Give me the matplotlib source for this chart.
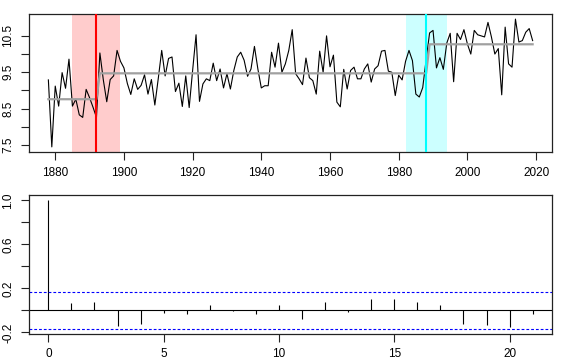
import numpy as np
import matplotlib
matplotlib.use("Agg")
import matplotlib.pyplot as plt

plt.rcParams['font.family'] = ['Liberation Sans', 'DejaVu Sans']
plt.rcParams['font.size'] = 8.5

# annual series, 1878-2019
years = np.arange(1878, 2020)
temp = [
    9.29, 7.45, 9.12, 8.57, 9.49, 9.06, 9.86, 8.57, 8.76, 8.33,
    8.26, 9.03, 8.80, 8.54, 8.26,
    10.03, 9.29, 8.69, 9.30, 9.40, 10.10, 9.80,
    9.62, 9.19, 8.89, 9.32, 9.03, 9.14, 9.43, 8.90, 9.30, 8.60,
    9.33, 10.10, 9.40, 9.88, 9.92, 8.97, 9.20, 8.56, 9.40, 8.53,
    9.55, 10.53, 8.70, 9.18, 9.32, 9.27, 9.75, 9.27, 9.59, 9.07,
    9.46, 9.04, 9.55, 9.92, 10.05, 9.83, 9.39, 9.59, 10.21, 9.59,
    9.07, 9.13, 9.13, 10.05, 9.64, 10.30, 9.50, 9.73, 10.10, 10.67,
    9.46, 9.32, 9.16, 9.89, 9.35, 9.27, 8.90, 10.08, 9.50, 10.50,
    9.65, 9.97, 8.68, 8.55, 9.58, 9.04, 9.55, 9.64, 9.32, 9.32,
    9.59, 9.73, 9.23, 9.59, 9.68, 10.08, 10.10, 9.53, 9.50, 8.86,
    9.42, 9.29, 9.80, 10.10, 9.82, 8.90, 8.82, 9.08, 9.85,
    10.58, 10.65, 9.62, 9.90, 9.58, 10.30, 10.57, 9.24, 10.57, 10.40,
    10.67, 10.28, 10.00, 10.65, 10.53, 10.50, 10.47, 10.87, 10.47, 10.00,
    10.15, 8.88, 10.74, 9.73, 9.64, 10.96, 10.33, 10.37, 10.60, 10.70,
    10.37,
]

# changepoints with their confidence intervals
cpt_years = [1892, 1988]
cpt_lo = [1885, 1982]
cpt_hi = [1899, 1994]
cpt_colors = ['red', 'cyan']
band_colors = ['#ffcccc', '#ccffff']

# autocorrelation of the series
lags = np.arange(0, 22)
acf = [1.0, 0.070, 0.079, -0.145, -0.124, -0.020, -0.030, 0.052, -0.006, -0.036,
       0.052, -0.073, 0.076, -0.018, 0.103, 0.100, 0.079, 0.052, -0.121, -0.130,
       -0.148, -0.033]

temp = np.array(temp)
n = len(temp)
conf = 1.96 / np.sqrt(n)

# segment means between changepoints
fitted = np.zeros(n)
edges = [years[0]] + [c + 1 for c in cpt_years] + [years[-1] + 1]
for a, b in zip(edges[:-1], edges[1:]):
    m = (years >= a) & (years < b)
    fitted[m] = temp[m].mean()


def r_lim(lo, hi):
    d = (hi - lo) * 0.04
    return lo - d, hi + d


def r_style(ax):
    for s in ax.spines.values():
        s.set_linewidth(0.9)
        s.set_color('#222222')
    ax.tick_params(direction='out', length=5.5, width=0.8, color='#222222',
                   top=False, right=False, pad=5)
    for lab in ax.get_yticklabels():
        lab.set_rotation(90)
        lab.set_va('center')


fig = plt.figure(figsize=(5.81, 3.63), dpi=100)
W, H = 581, 363
ax1 = fig.add_axes([29 / W, 1 - 152 / H, 523 / W, 138 / H])
ax2 = fig.add_axes([29 / W, 1 - 333.7 / H, 523 / W, 138.4 / H])

# top: series, changepoint bands, fitted means
for c, lo, hi, col, bcol in zip(cpt_years, cpt_lo, cpt_hi, cpt_colors, band_colors):
    ax1.axvspan(lo, hi, color=bcol, lw=0, zorder=1)
    ax1.axvline(c, color=col, lw=1.5, zorder=4)
ax1.plot(years, temp, color='black', lw=0.8, zorder=2)
ax1.plot(years, fitted, color='#a0a0a0', lw=1.6, zorder=3)
ax1.set_xlim(*r_lim(years[0], years[-1]))
ax1.set_ylim(*r_lim(temp.min(), temp.max()))
ax1.set_xticks(np.arange(1880, 2021, 20))
ax1.set_yticks(np.arange(7.5, 10.51, 0.5))
ax1.set_yticklabels(['7.5', '', '8.5', '', '9.5', '', '10.5'])
r_style(ax1)

# bottom: ACF
ax2.vlines(lags, 0, acf, color='black', lw=0.8)
ax2.axhline(0, color='black', lw=0.8)
for s in (conf, -conf):
    ax2.axhline(s, color='blue', lw=0.8, dashes=(2.5, 1.8))
ax2.set_xlim(*r_lim(lags[0], lags[-1]))
ax2.set_ylim(*r_lim(min(-conf, min(acf)), max(conf, max(acf))))
ax2.set_xticks(np.arange(0, 21, 5))
ax2.set_yticks([-0.2, 0.0, 0.2, 0.4, 0.6, 0.8, 1.0])
ax2.set_yticklabels(['-0.2', '', '0.2', '', '0.6', '', '1.0'])
r_style(ax2)

fig.savefig('out.png', dpi=100)
